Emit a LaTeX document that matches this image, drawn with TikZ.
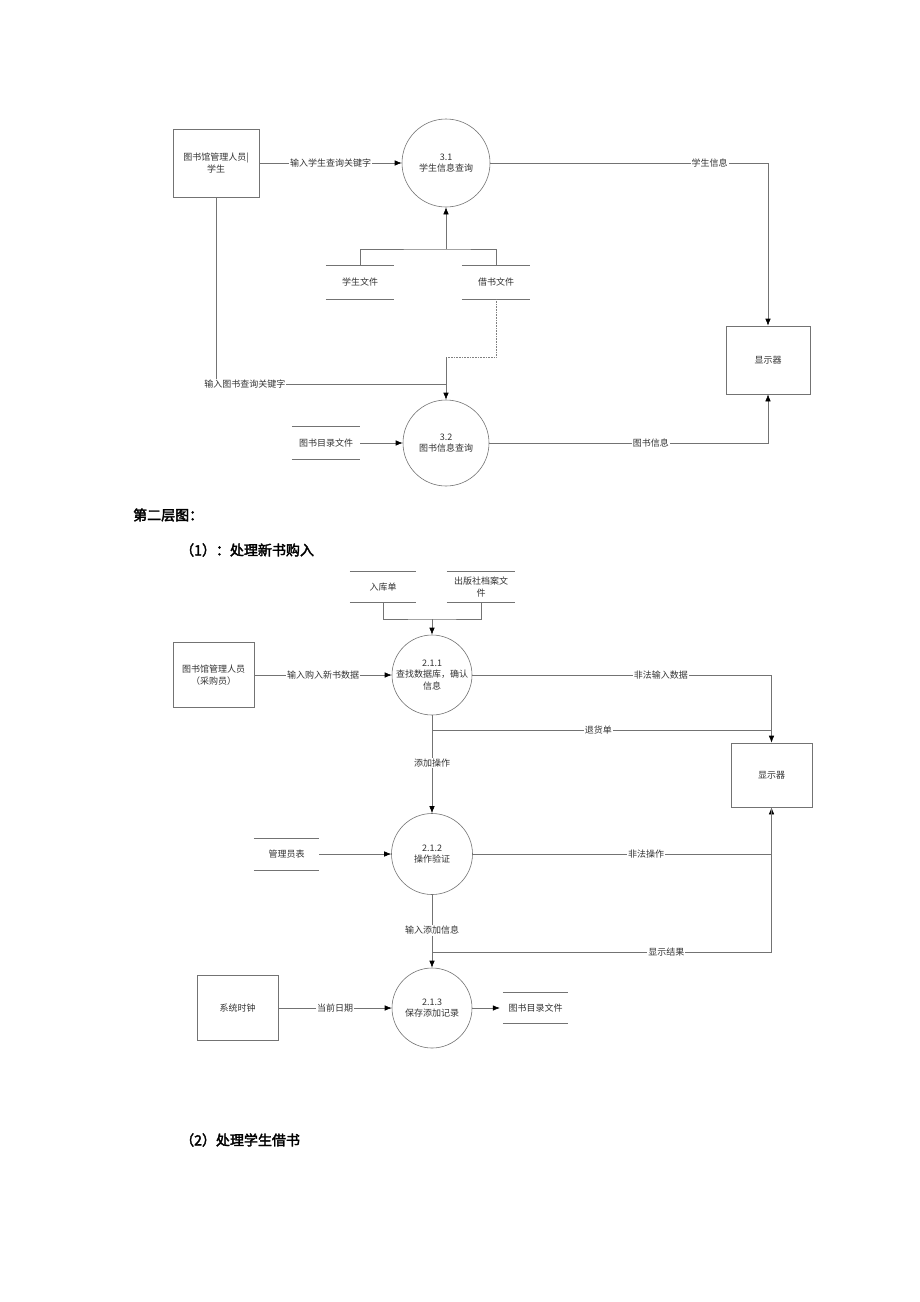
\documentclass[tikz,border=0pt]{standalone}
\usepackage{fontspec}
\setmainfont{Noto Sans CJK SC}
\newfontfamily\hfont{Noto Sans CJK SC}[FakeBold=2.5]
\usetikzlibrary{arrows.meta}
\begin{document}
\begin{tikzpicture}[x=1pt,y=-1pt,
  ln/.style={draw=black!55, line width=0.6pt},
  arr/.style={ln, -{Latex[length=7pt,width=5.5pt,color=black]}},
  dot/.style={draw=black!50, line width=0.6pt, densely dotted},
  txt/.style={font=\fontsize{9}{11.5}\selectfont, text=black!80},
  ent/.style={txt, draw=black!55, line width=0.6pt, inner sep=0pt, align=center},
  proc/.style={txt, circle, draw=black!55, line width=0.6pt, inner sep=0pt, align=center},
  store/.style={txt, inner sep=0pt, align=center},
  lbl/.style={txt, fill=white, inner sep=1pt},
  head/.style={font=\hfont\fontsize{14}{16}\selectfont, anchor=west, inner sep=0pt}
]
\fill[white] (0,0) rectangle (920,1302);
\useasboundingbox (0,0) rectangle (920,1302);

% ---------- top diagram ----------
\node[ent, minimum width=86pt, minimum height=68pt] (u1) at (216,163) {图书馆管理人员|\\学生};
\node[proc, minimum size=88pt] (p31) at (446,163) {3.1\\学生信息查询};
\node[ent, minimum width=84pt, minimum height=68pt] (d1) at (768,360) {显示器};
\node[store, minimum width=68pt, minimum height=34pt] (sf) at (360,282) {学生文件};
\node[store, minimum width=68pt, minimum height=34pt] (bf) at (496,282) {借书文件};
\node[proc, minimum size=86pt] (p32) at (446,443) {3.2\\图书信息查询};
\node[store, minimum width=68pt, minimum height=33pt] (cat1) at (326,443) {图书目录文件};
\foreach \s in {sf,bf,cat1}{
  \draw[ln] (\s.north west) -- (\s.north east);
  \draw[ln] (\s.south west) -- (\s.south east);
}
\coordinate (j1) at (446,249);
\coordinate (j2) at (446,357);
\coordinate (j3) at (446,384);

\draw[arr] (u1.east) -- node[lbl]{输入学生查询关键字} (p31.west);
\draw[arr] (p31.east) -| node[lbl,pos=0.395]{学生信息} (d1.north);
\draw[arr] (p32.east) -| node[lbl,pos=0.29]{图书信息} (d1.south);
\draw[ln] (sf.north) |- (j1) -| (bf.north);
\draw[arr] (j1) -- (p31.south);
\draw[dot] (bf.south) |- (j2);
\draw[arr] (j2) -- (p32.north);
\draw[ln] (u1.south) |- node[lbl,pos=0.563]{输入图书查询关键字} (j3);
\draw[arr] (cat1.east) -- (p32.west);

% ---------- headings ----------
\node[head] (h1) at (133,515) {第二层图：};
\node[head] (h2) at (180,550) {（1）：处理新书购入};

% ---------- middle diagram ----------
\node[store, minimum width=66pt, minimum height=31pt] (in1) at (383,587) {入库单};
\node[store, minimum width=68pt, minimum height=31pt] (pub) at (481,587) {出版社档案文\\件};
\node[proc, minimum size=80pt] (p211) at (432,675) {2.1.1\\查找数据库，确认\\信息};
\node[ent, minimum width=81pt, minimum height=65pt] (u2) at (213.5,675) {图书馆管理人员\\（采购员）};
\node[ent, minimum width=81pt, minimum height=64pt] (d2) at (771.5,775) {显示器};
\node[proc, minimum size=81pt] (p212) at (432,854) {2.1.2\\操作验证};
\node[store, minimum width=65pt, minimum height=32pt] (adm) at (286.5,854) {管理员表};
\node[proc, minimum size=80pt] (p213) at (432,1008) {2.1.3\\保存添加记录};
\node[ent, minimum width=81pt, minimum height=65pt] (clk) at (237.5,1008) {系统时钟};
\node[store, minimum width=65pt, minimum height=31pt] (cat2) at (535.5,1008) {图书目录文件};
\foreach \s in {in1,pub,adm,cat2}{
  \draw[ln] (\s.north west) -- (\s.north east);
  \draw[ln] (\s.south west) -- (\s.south east);
}
\coordinate (j4) at (432,619);
\coordinate (j5) at (432,730);
\coordinate (j6) at (771.5,730);
\coordinate (j7) at (432,952);

\draw[ln] (in1.south) |- (j4) -| (pub.south);
\draw[arr] (j4) -- (p211.north);
\draw[arr] (u2.east) -- node[lbl]{输入购入新书数据} (p211.west);
\draw[arr] (p211.east) -| node[lbl,pos=0.315]{非法输入数据} (d2.north);
\draw[ln] (j5) -- node[lbl,pos=0.49]{退货单} (j6);
\draw[arr] (p211.south) -- node[lbl,pos=0.49]{添加操作} (p212.north);
\draw[arr] (adm.east) -- (p212.west);
\draw[arr] (p212.east) -| node[lbl,pos=0.29]{非法操作} (d2.south);
\draw[arr] (p212.south) -- node[lbl,pos=0.49]{输入添加信息} (p213.north);
\draw[ln] (j7) -| node[lbl,pos=0.345]{显示结果} (d2.south);
\draw[arr] (clk.east) -- node[lbl]{当前日期} (p213.west);
\draw[arr] (p213.east) -- ([xshift=-3pt]cat2.west);

\node[head] (h3) at (180,1140) {（2）处理学生借书};
\end{tikzpicture}
\end{document}
